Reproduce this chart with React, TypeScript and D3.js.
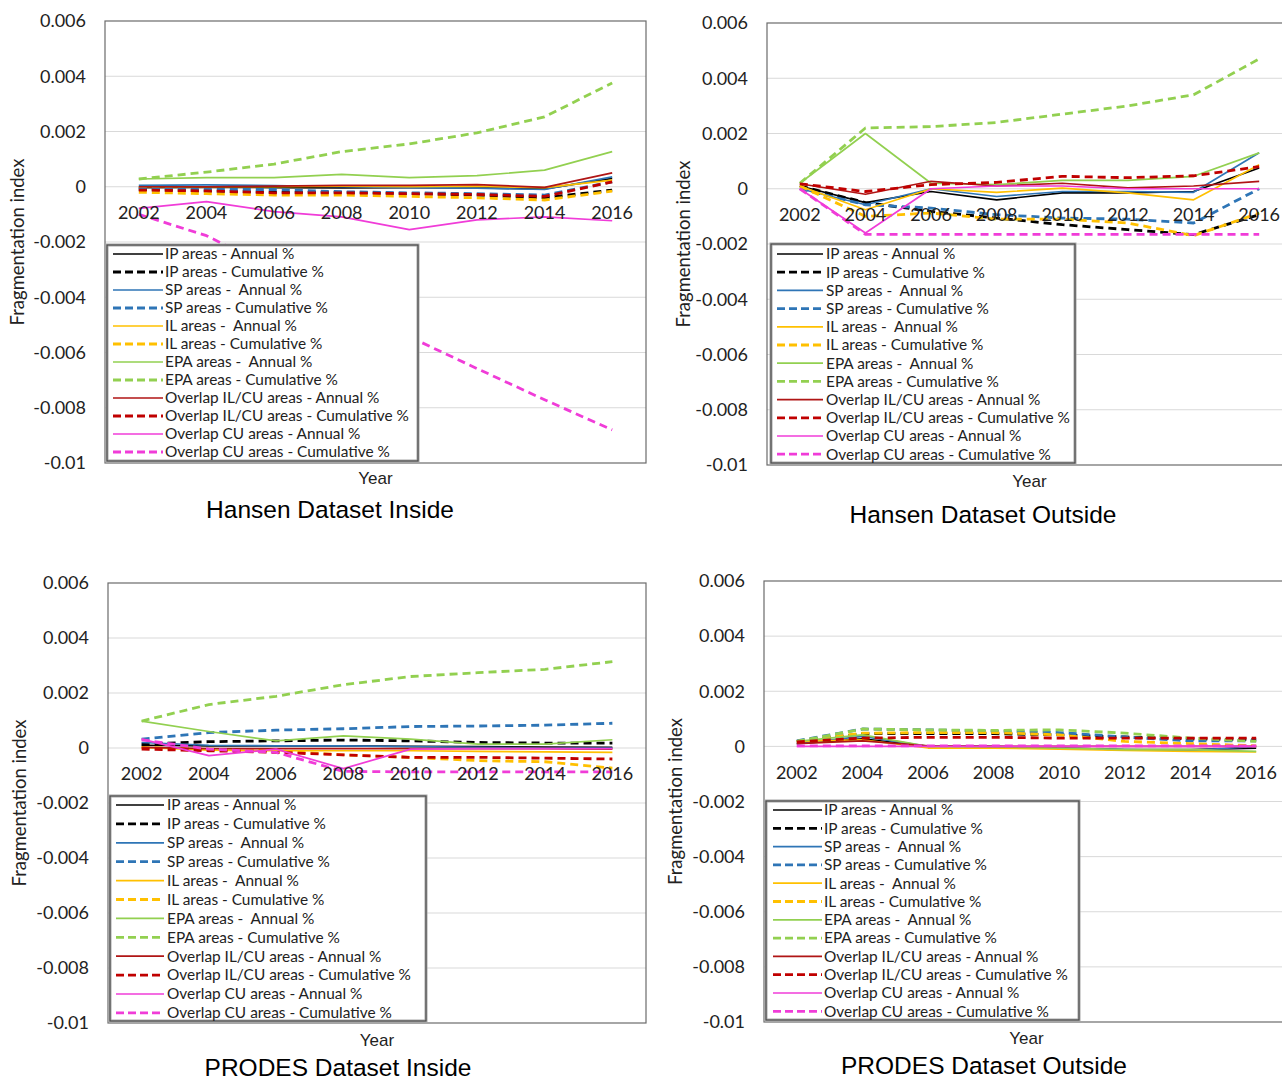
import * as d3 from 'd3';

// years shown on the category axis
const years = [2002, 2004, 2006, 2008, 2010, 2012, 2014, 2016];

const seriesNames = [
  'IP areas - Annual %',
  'IP areas - Cumulative %',
  'SP areas -  Annual %',
  'SP areas - Cumulative %',
  'IL areas -  Annual %',
  'IL areas - Cumulative %',
  'EPA areas -  Annual %',
  'EPA areas - Cumulative %',
  'Overlap IL/CU areas - Annual %',
  'Overlap IL/CU areas - Cumulative %',
  'Overlap CU areas - Annual %',
  'Overlap CU areas - Cumulative %',
];

const yTicks = [0.006, 0.004, 0.002, 0, -0.002, -0.004, -0.006, -0.008, -0.01];
const yTickLabels = ['0.006', '0.004', '0.002', '0', '-0.002', '-0.004', '-0.006', '-0.008', '-0.01'];

// one row per series, in the order of seriesNames
const hansenInside = [
  [-0.00003, -0.00002, -0.00003, -0.00004, -0.00003, -0.00004, -0.00008, 0.0003],
  [-0.0001, -0.00015, -0.0002, -0.0002, -0.00025, -0.0003, -0.0004, -0.00012],
  [0.00005, 0.00007, 0.00004, 0.0, -0.00003, -0.00005, -0.0001, 0.00036],
  [-0.00005, -0.0001, -0.0001, -0.00018, -0.00022, -0.00025, -0.0003, 0.00018],
  [0.0, 0.0, 0.0, 0.00002, 0.0, 0.00002, -0.00003, 0.00024],
  [-0.0002, -0.00025, -0.0003, -0.0003, -0.00035, -0.0004, -0.00048, -0.00016],
  [0.00028, 0.00033, 0.00033, 0.00045, 0.00033, 0.0004, 0.0006, 0.00127],
  [0.00028, 0.00053, 0.00082, 0.00127, 0.00155, 0.00195, 0.00253, 0.00376],
  [0.0, 0.0, 0.00002, 0.00005, 0.00005, 0.00008, -0.00002, 0.0005],
  [-0.00012, -0.00015, -0.00022, -0.00022, -0.00025, -0.00028, -0.00035, 0.00018],
  [-0.00078, -0.00054, -0.0009, -0.00109, -0.00155, -0.0012, -0.00109, -0.00123],
  [-0.001, -0.00177, -0.003, -0.00422, -0.00543, -0.00658, -0.00771, -0.0088],
];

const hansenOutside = [
  [0.0001, -0.0005, -0.0001, -0.0004, -0.00015, -0.00015, -0.0001, 0.00075],
  [0.0001, -0.0005, -0.00082, -0.00106, -0.0013, -0.00148, -0.00166, -0.00094],
  [0.0, -0.00058, 0.0, -0.00028, -0.0001, -0.0001, -0.00013, 0.0013],
  [0.0, -0.00058, -0.0007, -0.00094, -0.00106, -0.0011, -0.00124, 0.0],
  [0.0001, -0.00076, 0.0, -0.00013, 0.00002, -0.00015, -0.0004, 0.00087],
  [0.0001, -0.001, -0.00088, -0.0011, -0.0011, -0.00124, -0.0017, -0.00088],
  [0.0002, 0.002, 0.0002, 0.00015, 0.0003, 0.0003, 0.00045, 0.0013],
  [0.0002, 0.0022, 0.00225, 0.0024, 0.0027, 0.003, 0.0034, 0.0047],
  [0.00018, -0.0002, 0.00027, 0.0001, 0.0002, 0.00003, 0.0001, 0.00027],
  [0.00018, -0.0001, 0.00015, 0.00023, 0.00045, 0.0004, 0.00047, 0.0008],
  [0.0, -0.0016, 0.0, 0.0001, 0.0001, 0.0, 0.0, 0.0],
  [0.0, -0.00165, -0.00165, -0.00165, -0.00165, -0.00165, -0.00165, -0.00165],
];

const prodesInside = [
  [0.0001, 0.00008, 0.00008, 0.00008, 0.00006, 0.00005, 0.00003, 0.00002],
  [0.00014, 0.00023, 0.00026, 0.00029, 0.00026, 0.0002, 0.00018, 0.00018],
  [0.0002, 0.0001, 0.00008, 0.00008, 0.00005, 0.00002, 0.0, 0.0],
  [0.00032, 0.00056, 0.00065, 0.0007, 0.00078, 0.0008, 0.00083, 0.0009],
  [0.00002, -0.00008, -0.0001, -0.0001, -0.0001, -0.00012, -0.00014, -0.00016],
  [0.00002, -0.00004, -0.0001, -0.00025, -0.00034, -0.00046, -0.0005, -0.00073],
  [0.00098, 0.0006, 0.00026, 0.00044, 0.00032, 0.00014, 0.00014, 0.0003],
  [0.00098, 0.00158, 0.00188, 0.0023, 0.0026, 0.00274, 0.00286, 0.00314],
  [0.00002, -0.00002, -0.00002, -0.00002, -0.00002, -0.00002, -0.00002, -0.00004],
  [-0.00004, -0.0001, -0.00016, -0.00025, -0.00034, -0.00034, -0.00037, -0.0004],
  [0.00032, -0.00028, -0.00004, -0.00075, -0.00004, -0.00002, -0.00002, -0.00002],
  [0.0003, -0.00004, -0.00016, -0.00085, -0.00087, -0.00087, -0.00087, -0.00087],
];

const prodesOutside = [
  [0.0001, 0.00027, 0.0, 0.0, -0.00006, -0.00012, -0.00012, -0.00006],
  [0.00018, 0.00046, 0.00046, 0.00046, 0.00042, 0.00034, 0.00027, 0.00024],
  [0.0001, 0.00036, 0.0, -0.00002, -0.00006, -0.00012, -0.00015, 0.0],
  [0.0002, 0.00063, 0.0006, 0.00055, 0.0005, 0.00034, 0.0002, 0.0002],
  [0.00018, 0.00024, -0.00006, -0.00006, -0.0001, -0.00015, -0.00018, -0.0002],
  [0.00018, 0.00048, 0.0005, 0.0005, 0.00042, 0.00018, 0.0001, 0.00002],
  [0.00018, 0.00042, 0.0, -0.00002, -0.00006, -0.00012, -0.00012, -0.00018],
  [0.00018, 0.00063, 0.0006, 0.00058, 0.0006, 0.00048, 0.0003, 0.00018],
  [0.0001, 0.0002, 0.00002, 0.0, 0.0, 0.0, 0.0, 0.0],
  [0.00016, 0.0003, 0.00033, 0.00033, 0.0003, 0.0003, 0.0003, 0.0003],
  [0.0, 0.0, 0.0, 0.0, 0.0, 0.0, 0.0, 0.0],
  [0.00002, 0.00002, 0.00002, 0.00002, 0.00002, 0.00002, 0.00002, 0.00002],
];

// styling per series
const seriesColors = [
  '#000000', '#000000', '#2E75B6', '#2E75B6', '#FFC000', '#FFC000',
  '#92D050', '#92D050', '#B01515', '#C00000', '#F03CD8', '#F03CD8',
];
const seriesDashed = [false, true, false, true, false, true, false, true, false, true, false, true];

const FONT = 'Lato, "Open Sans", sans-serif';
const ARIAL = '"Liberation Sans", Arial, sans-serif';

const panels = [
  {
    title: 'Hansen Dataset Inside', data: hansenInside,
    left: 105, top: 21, right: 646, bottom: 463,
    legend: { x: 107, y: 245, w: 311, h: 216, row0: 254, step: 18, l0: 113, l1: 163, tx: 165 },
    yTitleX: 18, yearY: 478, titleX: 330, titleY: 509,
  },
  {
    title: 'Hansen Dataset Outside', data: hansenOutside,
    left: 767, top: 23, right: 1292, bottom: 465,
    legend: { x: 771, y: 244, w: 304, h: 219, row0: 254, step: 18.2, l0: 777, l1: 823, tx: 826 },
    yTitleX: 684, yearY: 481, titleX: 983, titleY: 514,
  },
  {
    title: 'PRODES Dataset Inside', data: prodesInside,
    left: 108, top: 583, right: 646, bottom: 1023,
    legend: { x: 110, y: 796, w: 316, h: 225, row0: 805, step: 18.9, l0: 116, l1: 164, tx: 167 },
    yTitleX: 20, yearY: 1040, titleX: 338, titleY: 1067,
  },
  {
    title: 'PRODES Dataset Outside', data: prodesOutside,
    left: 764, top: 581, right: 1289, bottom: 1022,
    legend: { x: 766, y: 801, w: 313, h: 219, row0: 810, step: 18.3, l0: 773, l1: 822, tx: 824 },
    yTitleX: 676, yearY: 1038, titleX: 984, titleY: 1065,
  },
];

function Panel({ p }: { p: any }) {
  const x = d3.scalePoint<string>()
    .domain(years.map(String))
    .range([p.left, p.right])
    .padding(0.5);
  const y = d3.scaleLinear().domain([-0.01, 0.006]).range([p.bottom, p.top]);
  const line = d3.line<number>()
    .x((_, i) => x(String(years[i])) as number)
    .y(d => y(d));
  const lg = p.legend;
  const midX = (p.left + p.right) / 2;
  const midY = (p.top + p.bottom) / 2;

  return (
    <g>
      {/* gridlines */}
      {yTicks.slice(1, -1).map(t => (
        <line key={t} x1={p.left} x2={p.right} y1={y(t)} y2={y(t)} stroke="#d9d9d9" strokeWidth={1} />
      ))}
      <rect x={p.left} y={p.top} width={p.right - p.left} height={p.bottom - p.top}
        fill="none" stroke="#6b6b6b" strokeWidth={1.2} />

      {/* series */}
      {p.data.map((vals: number[], i: number) => (
        <path key={i} d={line(vals) || ''} fill="none" stroke={seriesColors[i]}
          strokeWidth={seriesDashed[i] ? 2.8 : 1.7}
          strokeDasharray={seriesDashed[i] ? '8,5' : undefined}
          strokeLinejoin="round" />
      ))}

      {/* category labels next to the zero line */}
      {years.map(yr => (
        <text key={yr} x={x(String(yr))} y={y(0) + 26} dy="0.35em" textAnchor="middle"
          fontSize={18} fill="#222" fontFamily={FONT}>{yr}</text>
      ))}

      {/* y ticks */}
      {yTicks.map((t, i) => (
        <text key={t} x={p.left - 19} y={y(t)} dy="0.35em" textAnchor="end"
          fontSize={18} fill="#222" fontFamily={FONT}>{yTickLabels[i]}</text>
      ))}

      {/* legend */}
      <rect x={lg.x} y={lg.y} width={lg.w} height={lg.h} fill="#fff" stroke="#a6a6a6" strokeWidth={3} />
      <rect x={lg.x} y={lg.y} width={lg.w} height={lg.h} fill="none" stroke="#404040" strokeWidth={1} />
      {seriesNames.map((name, i) => {
        const ry = lg.row0 + i * lg.step;
        return (
          <g key={name}>
            <line x1={lg.l0} x2={lg.l1} y1={ry} y2={ry} stroke={seriesColors[i]}
              strokeWidth={seriesDashed[i] ? 2.8 : 1.7}
              strokeDasharray={seriesDashed[i] ? '8,4' : undefined} />
            <text x={lg.tx} y={ry} dy="0.35em" fontSize={15.4} fill="#222" fontFamily={FONT}
              style={{ whiteSpace: 'pre' }}>{name}</text>
          </g>
        );
      })}

      {/* axis titles */}
      <text transform={`translate(${p.yTitleX},${midY}) rotate(-90)`} dy="0.35em" textAnchor="middle"
        fontSize={18.5} fill="#222" fontFamily={FONT}>Fragmentation index</text>
      <text x={midX} y={p.yearY} dy="0.35em" textAnchor="middle" fontSize={17}
        fill="#222" fontFamily={ARIAL}>Year</text>
      <text x={p.titleX} y={p.titleY} dy="0.35em" textAnchor="middle" fontSize={24.5}
        fill="#000" fontFamily={ARIAL}>{p.title}</text>
    </g>
  );
}

export default function App() {
  return (
    <svg width={1282} height={1080} style={{ position: 'absolute', left: 0, top: 0, background: '#fff' }}>
      <rect width={1282} height={1080} fill="#fff" />
      {panels.map(p => <Panel key={p.title} p={p} />)}
    </svg>
  );
}
